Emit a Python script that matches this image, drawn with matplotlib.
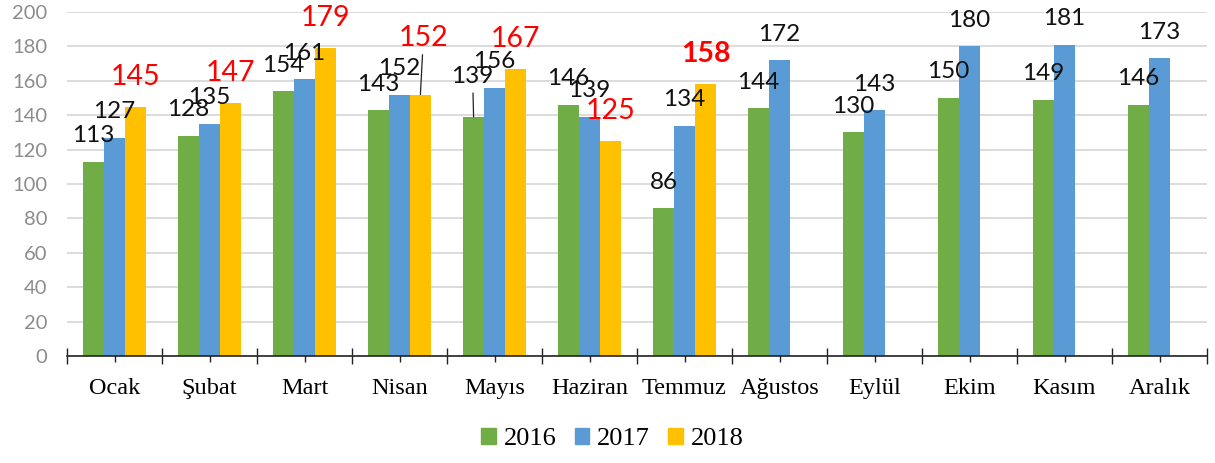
"""Monthly counts 2016-2018, grouped bars with Excel-style data labels."""
import matplotlib
matplotlib.use("Agg")
import matplotlib.pyplot as plt
import numpy as np
from matplotlib.patches import Patch

months = ["Ocak", "Şubat", "Mart", "Nisan", "Mayıs", "Haziran", "Temmuz",
          "Ağustos", "Eylül", "Ekim", "Kasım", "Aralık"]
v2016 = [113, 128, 154, 143, 139, 146, 86, 144, 130, 150, 149, 146]
v2017 = [127, 135, 161, 152, 156, 139, 134, 172, 143, 180, 181, 173]
v2018 = [145, 147, 179, 152, 167, 125, 158]
years = ["2016", "2017", "2018"]

c16 = "#70AD47"
c17 = "#5B9BD5"
c18 = "#FFC000"

x = np.arange(len(months))
w = 0.22

fig = plt.figure(figsize=(12.15, 4.63), dpi=100)
ax = fig.add_axes([67 / 1215, 1 - 356 / 463, 1140 / 1215, 344 / 463])

ax.bar(x - w, v2016, w, color=c16, zorder=3)
ax.bar(x, v2017, w, color=c17, zorder=3)
ax.bar(x[:len(v2018)] + w, v2018, w, color=c18, zorder=3)

lab_font = "Lato"
black_kw = dict(fontsize=17.5, family=lab_font, color="#111111",
                ha="center", va="center", zorder=5)
red_kw = dict(fontsize=20.5, family=lab_font, color="#FF0000",
              ha="center", va="center", zorder=5)

for i, v in enumerate(v2016):
    if months[i] == "Mayıs":
        ax.annotate(str(v), xy=(i - w, v), xytext=(-1, 40),
                    textcoords="offset pixels",
                    arrowprops=dict(arrowstyle="-", color="#222222", lw=0.9,
                                    shrinkA=2, shrinkB=0), **black_kw)
    else:
        ax.annotate(str(v), xy=(i - w, v), xytext=(0, 26),
                    textcoords="offset pixels", **black_kw)

for i, v in enumerate(v2017):
    ax.annotate(str(v), xy=(i, v), xytext=(0, 26),
                textcoords="offset pixels", **black_kw)

for i, v in enumerate(v2018):
    kw = dict(red_kw)
    if months[i] == "Temmuz":
        kw["fontweight"] = "bold"
    if months[i] == "Nisan":
        ax.annotate(str(v), xy=(i + w, v), xytext=(3, 57),
                    textcoords="offset pixels",
                    arrowprops=dict(arrowstyle="-", color="#222222", lw=0.9,
                                    shrinkA=1, shrinkB=0), **kw)
    else:
        ax.annotate(str(v), xy=(i + w, v), xytext=(0, 30),
                    textcoords="offset pixels", **kw)

ax.set_xlim(-0.5, len(months) - 0.5)
ax.set_ylim(0, 200)
ax.set_yticks(np.arange(0, 201, 20))
ax.tick_params(axis="y", length=0, pad=14, labelsize=14.5, labelcolor="#8C8C8C")
for t in ax.get_yticklabels():
    t.set_family(lab_font)

ax.set_xticks(x)
ax.set_xticklabels(months, family="Liberation Serif", fontsize=17.5)
ax.set_xticks(np.arange(-0.5, len(months)), minor=True)
ax.tick_params(axis="x", which="major", direction="inout", length=8,
               width=1, color="#222222", pad=12)
ax.tick_params(axis="x", which="minor", direction="inout", length=12,
               width=1, color="#222222")

ax.grid(axis="y", color="#D9D9D9", linewidth=1.3, zorder=0)
ax.set_axisbelow(True)
for s in ["top", "right", "left"]:
    ax.spines[s].set_visible(False)
ax.spines["bottom"].set_color("#222222")
ax.spines["bottom"].set_linewidth(1.2)
ax.spines["bottom"].set_zorder(4)

fig.legend(handles=[Patch(color=c16, label=years[0]),
                    Patch(color=c17, label=years[1]),
                    Patch(color=c18, label=years[2])],
           loc="center", bbox_to_anchor=(0.504, 0.052), ncol=3,
           frameon=False, prop=dict(family="Liberation Serif", size=19),
           handlelength=0.55, handleheight=0.55, handletextpad=0.3,
           columnspacing=0.7)

fig.savefig("out.png", dpi=100, facecolor="white")
plt.close()
